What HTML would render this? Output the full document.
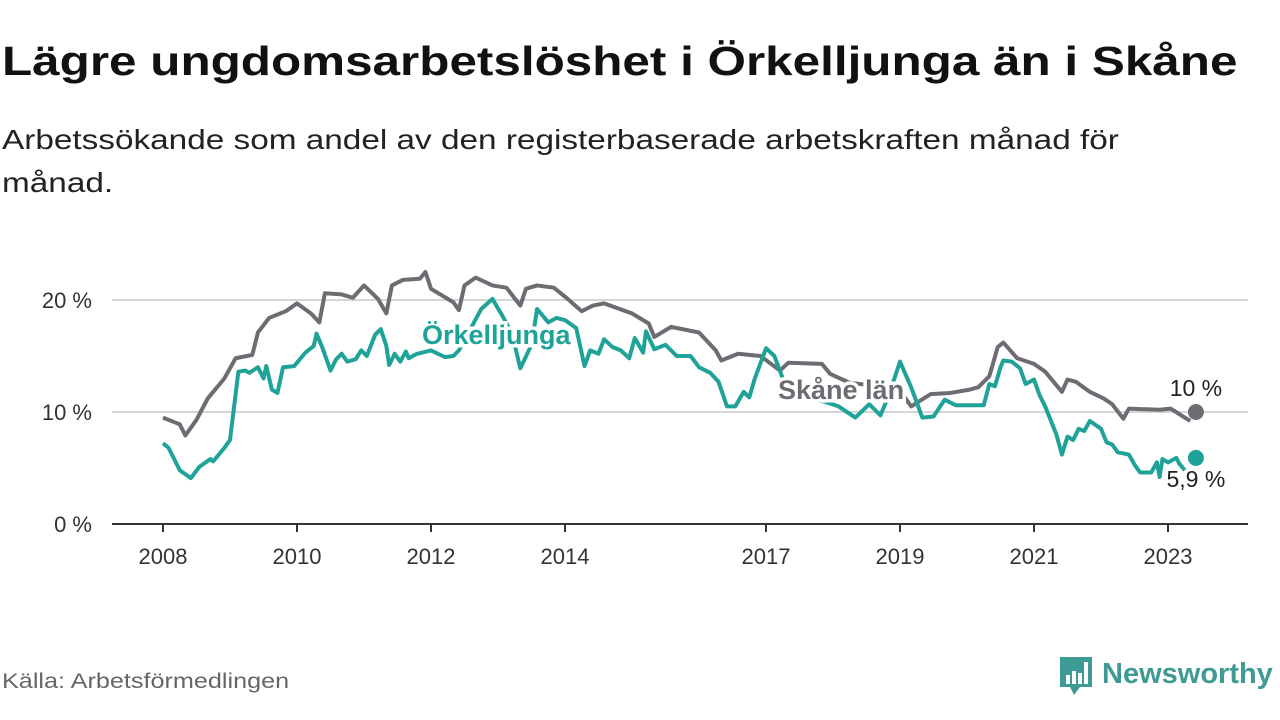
<!DOCTYPE html>
<html><head><meta charset="utf-8">
<style>
body{margin:0;width:1280px;height:720px;background:#fff;font-family:"Liberation Sans","DejaVu Sans",sans-serif;position:relative;overflow:hidden}
#title{position:absolute;left:2px;top:38px;font-size:41px;font-weight:bold;color:#111;margin:0;white-space:nowrap;transform:scaleX(1.205);transform-origin:left top}
#sub{position:absolute;left:2px;top:118px;font-size:28px;color:#222;line-height:43px;white-space:nowrap;transform:scaleX(1.19);transform-origin:left top}
#src{position:absolute;left:2px;top:670px;font-size:21px;color:#666;transform:scaleX(1.2);transform-origin:left top}
#logo{position:absolute;left:1058px;top:655px}
svg text{font-family:"Liberation Sans","DejaVu Sans",sans-serif}
</style></head><body>
<h1 id="title">Lägre ungdomsarbetslöshet i Örkelljunga än i Skåne</h1>
<div id="sub">Arbetssökande som andel av den registerbaserade arbetskraften månad för<br>månad.</div>
<svg id="chart" width="1280" height="720" style="position:absolute;left:0;top:0"></svg>
<div id="src">Källa: Arbetsförmedlingen</div>
<svg id="logo" width="220" height="50">
<path d="M2 2h32v30h-12l-6 8-4-8h-10z" fill="#3d9a94"/>
<rect x="8" y="20" width="4" height="9" fill="#fff"/><rect x="14" y="16" width="4" height="13" fill="#fff"/><rect x="20" y="18" width="4" height="11" fill="#fff"/><rect x="26" y="7" width="4" height="22" fill="#fff"/>
<text x="44" y="28" font-size="29" fill="#3d9a94" font-weight="bold">Newsworthy</text>
</svg>
<script>
const skaneMonths=[0,3,4,6,8,11,13,16,17,19,22,24,26.5,28,29,32,34,36,38.5,40,41,43,46,47,48,52,53,54,56,59,61.5,64,65,67,70,72,75,77,79,84,87,88,91,96,99,100,103,107,110.5,112,118,119.5,123,128.5,132,134,137.5,141,144.5,146,148,149.5,150.5,153,156,158,161,162,163.5,166,168.5,170,172,173,178.5,180.5,183,184];
const skaneValues=[9.5,8.9,7.9,9.3,11.2,13.0,14.8,15.1,17.1,18.4,19.0,19.7,18.8,18.0,20.6,20.5,20.2,21.3,20.1,18.8,21.3,21.8,21.9,22.5,21.0,19.8,19.1,21.3,22.0,21.3,21.1,19.5,21.0,21.3,21.1,20.3,19.0,19.5,19.7,18.8,17.9,16.7,17.6,17.1,15.5,14.6,15.2,15.0,13.7,14.4,14.3,13.4,12.6,12.3,11.9,10.5,11.6,11.7,12.0,12.2,13.2,15.8,16.2,14.8,14.3,13.6,11.8,12.9,12.7,11.8,11.2,10.7,9.4,10.3,10.2,10.3,9.5,9.2];
const orkMonths=[0,1,3,5,6.5,8.5,9,11,12,13.5,14.7,15.5,17,18,18.5,19.5,20.5,21.5,23.5,25.5,27,27.5,28.5,30,31,32,33,34.5,35.5,36.5,38,39,40,40.5,41.5,42.5,43.5,44,45.5,48,50.5,52,53,57,59,61,62.5,64,66,67,69,70.5,72,74,75.5,76.5,78,79,80.5,82,83.5,84.5,86,86.5,88,90,92,94.5,96,98,99.5,101,102.5,104,105,106,107.5,108,109.5,111,112.5,114,118,121,124,126.5,128.5,130,132,134,136,138,140,142,144.5,147,148,149,150,150.5,152,153.5,154.5,156,157,158,160,161,162,163,164,165,166,168,169,170,171,173,174,175,177,178,178.5,179,180,181.5,182,183];
const orkValues=[7.2,6.8,4.8,4.1,5.1,5.8,5.6,6.8,7.5,13.6,13.7,13.5,14.0,13.0,14.1,12.0,11.7,14.0,14.1,15.3,15.9,17.0,15.8,13.7,14.7,15.2,14.5,14.7,15.5,15.0,16.9,17.4,15.9,14.2,15.2,14.5,15.4,14.8,15.2,15.5,14.9,15.0,15.5,19.2,20.1,18.4,17.0,13.9,16.0,19.2,18.0,18.4,18.2,17.5,14.1,15.5,15.2,16.5,15.8,15.5,14.8,16.6,15.3,17.2,15.6,16.0,15.0,15.0,14.0,13.5,12.7,10.5,10.5,11.8,11.3,13.0,15.0,15.7,15.0,13.0,11.2,11.5,11.0,10.5,9.5,10.7,9.7,11.5,14.5,12.2,9.5,9.6,11.1,10.6,10.6,10.6,12.5,12.3,14.0,14.6,14.5,13.9,12.5,12.9,11.5,10.5,8.0,6.2,7.8,7.5,8.5,8.3,9.2,8.5,7.3,7.1,6.4,6.2,5.3,4.6,4.6,5.5,4.2,5.8,5.5,5.9,5.4,4.8];
const lastMonth=185;
const lastSkane=10.0;
const lastOrk=5.9;
const yTicks=[0,10,20];
const yTickLabels=["0 %","10 %","20 %"];
const xTickYears=[2008,2010,2012,2014,2017,2019,2021,2023];

const NS="http://www.w3.org/2000/svg";
const svg=document.getElementById('chart');
const x=m=>163+m*67/12;
const xy=yr=>x((yr-2008)*12);
const y=v=>524-v*11.2;
function el(t,a,p){const e=document.createElementNS(NS,t);for(const k in a)e.setAttribute(k,a[k]);(p||svg).appendChild(e);return e;}
yTicks.forEach((t,i)=>{
  if(t>0){const g=el('line',{x1:112,x2:1248,y1:y(t),y2:y(t),stroke:'#d6d6d6','stroke-width':2});
  
  }
  const tx=el('text',{x:92,y:y(t)+8,'font-size':22,fill:'#333','text-anchor':'end'});tx.textContent=yTickLabels[i];
  
  
});
const ax=el('line',{x1:112,x2:1248,y1:y(0),y2:y(0),stroke:'#333','stroke-width':2});


xTickYears.forEach(yr=>{
  const tk=el('line',{x1:xy(yr),x2:xy(yr),y1:y(0),y2:y(0)+8,stroke:'#333','stroke-width':2});
  
  
  const tx=el('text',{x:xy(yr),y:564,'font-size':22,fill:'#333','text-anchor':'middle'});tx.textContent=yr;
  
  
});
function line(ms,vs,col,name){
  const p=el('polyline',{points:ms.map((m,i)=>x(m)+','+y(vs[i])).join(' '),fill:'none',stroke:col,'stroke-width':4,'stroke-linejoin':'round'});
  
  
}
line(skaneMonths,skaneValues,'#6e6b72','skane-line');
line(orkMonths,orkValues,'#1fa398','orkelljunga-line');
function lab(t,xx,yy,col,name,bold,anchor){
  const tx=el('text',{x:xx,y:yy,'font-size':bold?27:23,'font-weight':bold?'bold':'normal',fill:col,stroke:'#fff','stroke-width':bold?7:0,'paint-order':'stroke','text-anchor':anchor||'start'});
  tx.textContent=t;
  
  
}
lab('Örkelljunga',422,344,'#1fa398','orkelljunga-label',true);
lab('Skåne län',778,399,'#6e6b72','skane-label',true);
const d1=el('circle',{cx:x(lastMonth),cy:y(lastSkane),r:8,fill:'#6e6b72'});


const d2=el('circle',{cx:x(lastMonth),cy:y(lastOrk),r:8,fill:'#1fa398'});


lab('10 %',x(lastMonth),y(lastSkane)-16,'#222','skane-end-value',false,'middle');
lab('5,9 %',x(lastMonth),y(lastOrk)+29,'#222','orkelljunga-end-value',false,'middle');
</script>
</body></html>
